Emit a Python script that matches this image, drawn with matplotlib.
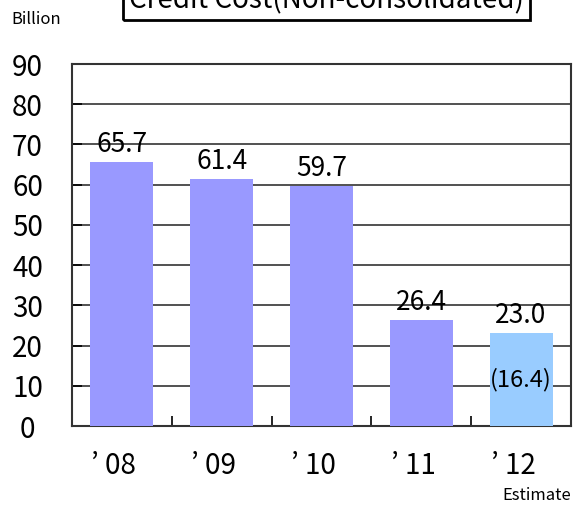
import matplotlib.pyplot as plt
import matplotlib.transforms as mtransforms
from matplotlib.patches import Rectangle

years = ["’ 08", "’ 09", "’ 10", "’ 11", "’ 12"]
values = [65.7, 61.4, 59.7, 26.4, 23.0]
colors = ["#9999FF", "#9999FF", "#9999FF", "#9999FF", "#99CCFF"]
inner_label = "(16.4)"

jp = ["Noto Sans CJK JP", "DejaVu Sans"]

fig = plt.figure(figsize=(5.79, 5.08), dpi=100)
ax = fig.add_axes([72 / 579, 82 / 508, 499 / 579, 362 / 508])

x = range(len(years))
ax.bar(x, values, width=0.63, color=colors, zorder=3)

# gridlines
ax.set_ylim(0, 90)
ax.set_xlim(-0.5, len(years) - 0.5)
ax.set_yticks(range(0, 100, 10))
ax.yaxis.grid(True, color="#333333", linewidth=1.2, zorder=1)
ax.tick_params(axis="y", direction="in", length=7, width=1.2, labelsize=20, pad=32)
for lab in ax.get_yticklabels():
    lab.set_family(jp)
    lab.set_horizontalalignment("center")

ax.set_xticks(x)
ax.set_xticklabels(years, fontsize=20, family=jp)
ax.tick_params(axis="x", length=0, pad=18)
shift = mtransforms.ScaledTranslation(-8 / 100, 0, fig.dpi_scale_trans)
for lab in ax.get_xticklabels():
    lab.set_transform(lab.get_transform() + shift)
ax.set_xticks([i + 0.5 for i in range(len(years) - 1)], minor=True)
ax.tick_params(axis="x", which="minor", direction="in", length=7, width=1.2)

for s in ax.spines.values():
    s.set_color("#333333")
    s.set_linewidth(1.5)

for i, v in enumerate(values):
    ax.text(i, v + 1.0, f"{v:.1f}", ha="center", va="bottom", fontsize=19, family=jp)
ax.text(4, 11.5, inner_label, ha="center", va="center", fontsize=17, family=jp)

fig.text(36 / 579, 1 - 19 / 508, "Billion", ha="center", va="center", fontsize=12, family=jp)
fig.text(537 / 579, 1 - 496 / 508, "Estimate", ha="center", va="center", fontsize=12, family=jp)

# title box, cut by the top edge as in the source image
fig.patches.append(Rectangle((123 / 579, 1 - 20 / 508), 407 / 579, 40 / 508,
                             transform=fig.transFigure, fill=False,
                             edgecolor="black", linewidth=2))
fig.text(326 / 579, 1 - 8 / 508, "Credit Cost(Non-consolidated)", ha="center",
         va="baseline", fontsize=20, family=jp)

fig.savefig("out.png", dpi=100)
